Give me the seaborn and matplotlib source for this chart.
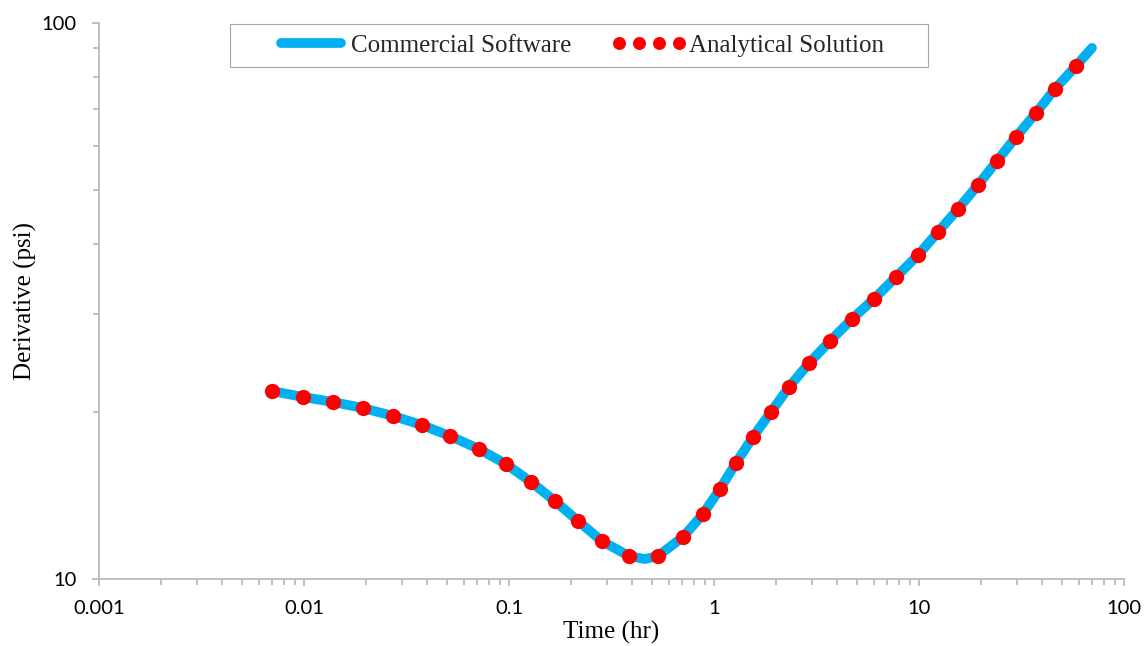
import numpy as np
import matplotlib
matplotlib.use("Agg")
import matplotlib.pyplot as plt
import seaborn as sns
from matplotlib.ticker import LogLocator, NullFormatter
from matplotlib.patches import Rectangle

# Pressure-derivative response vs. elapsed time (log-log)
software_time = [0.00698, 0.00989, 0.01385, 0.0194, 0.0272, 0.0376, 0.0515, 0.0714,
                 0.0966, 0.128, 0.1675, 0.217, 0.284, 0.385, 0.46, 0.533, 0.706,
                 0.884, 1.070, 1.280, 1.549, 1.897, 2.32, 2.91, 3.68, 4.71, 6.03,
                 7.73, 9.89, 12.38, 15.49, 19.40, 24.0, 29.7, 37.2, 46.0, 58.3, 69.8]
software_deriv = [21.78, 21.25, 20.81, 20.30, 19.64, 18.92, 18.08, 17.13,
                  16.10, 14.95, 13.81, 12.72, 11.70, 11.00, 10.86, 11.00, 11.90,
                  13.09, 14.52, 16.17, 18.01, 19.97, 22.14, 24.46, 26.79, 29.36, 31.89,
                  34.93, 38.24, 42.08, 46.30, 51.12, 56.47, 62.37, 68.89, 76.08, 83.70, 90.2]

analytical_time = [0.00698, 0.00989, 0.01385, 0.0194, 0.0272, 0.0376, 0.0515, 0.0714,
                   0.0966, 0.128, 0.1675, 0.217, 0.284, 0.385, 0.533, 0.706,
                   0.884, 1.070, 1.280, 1.549, 1.897, 2.32, 2.91, 3.68, 4.71, 6.03,
                   7.73, 9.89, 12.38, 15.49, 19.40, 24.0, 29.7, 37.2, 46.0, 58.3]
analytical_deriv = [21.78, 21.25, 20.81, 20.30, 19.64, 18.92, 18.08, 17.13,
                    16.10, 14.95, 13.81, 12.72, 11.70, 11.00, 11.00, 11.90,
                    13.09, 14.52, 16.17, 18.01, 19.97, 22.14, 24.46, 26.79, 29.36, 31.89,
                    34.93, 38.24, 42.08, 46.30, 51.12, 56.47, 62.37, 68.89, 76.08, 83.70]

series_labels = ["Commercial Software", "Analytical Solution"]
x_tick_values = [0.001, 0.01, 0.1, 1, 10, 100]
y_tick_values = [10, 100]

sns.set_theme(style="white")
plt.rcParams["font.family"] = ["Liberation Serif", "DejaVu Serif"]

W, H = 1148, 646
fig = plt.figure(figsize=(W / 100, H / 100), dpi=100)
ax = fig.add_axes([99 / W, 1 - 579 / H, (1124 - 99) / W, (579 - 23) / H])

sns.lineplot(x=software_time, y=software_deriv, ax=ax, color="#00B0F0",
             linewidth=7, solid_capstyle="round", sort=False, estimator=None,
             label=series_labels[0])
sns.lineplot(x=analytical_time, y=analytical_deriv, ax=ax, color="#FF0000",
             linestyle="", marker="o", markersize=11, markeredgewidth=0,
             sort=False, estimator=None, label=series_labels[1])

ax.set_xscale("log")
ax.set_yscale("log")

tick_font = dict(fontfamily="Lato", fontsize=14.5, color="black")
ax.set_xticks(x_tick_values, labels=[f"{v:g}" for v in x_tick_values], **tick_font)
ax.set_yticks(y_tick_values, labels=[f"{v:g}" for v in y_tick_values], **tick_font)
ax.xaxis.set_minor_locator(LogLocator(base=10, subs=np.arange(2, 10)))
ax.yaxis.set_minor_locator(LogLocator(base=10, subs=np.arange(2, 10)))
ax.xaxis.set_minor_formatter(NullFormatter())
ax.yaxis.set_minor_formatter(NullFormatter())
ax.set_xlim(0.001, 100)
ax.set_ylim(10, 100)

axis_gray = "#BFBFBF"
for side in ("top", "right"):
    ax.spines[side].set_visible(False)
for side in ("left", "bottom"):
    ax.spines[side].set_color(axis_gray)
    ax.spines[side].set_linewidth(1.4)
ax.tick_params(which="both", bottom=True, left=True, top=False, right=False)
ax.tick_params(which="major", direction="out", length=5, width=1.4,
               color=axis_gray)
ax.tick_params(which="minor", direction="out", length=4, width=1.4,
               color=axis_gray)
ax.tick_params(axis="x", which="major", pad=10)
ax.tick_params(axis="y", which="major", pad=11)
ax.grid(False)

ax.set_xlabel("Time (hr)", fontsize=18, color="black", labelpad=3)
ax.set_ylabel("Derivative (psi)", fontsize=18, color="black", labelpad=3)

handles, labels = ax.get_legend_handles_labels()
if ax.get_legend() is not None:
    ax.get_legend().remove()
fig.legend(handles, labels, loc="center", bbox_to_anchor=(579 / W, 1 - 45.5 / H),
           ncol=2, frameon=False, fontsize=18, numpoints=4, handlelength=3,
           handletextpad=0.1, columnspacing=1.6, markerscale=0.85, borderpad=0)
fig.add_artist(Rectangle((230 / W, 1 - 67 / H), 698 / W, 43 / H,
                         transform=fig.transFigure, facecolor="white",
                         edgecolor="#A6A6A6", linewidth=0.8, zorder=0.5))

fig.savefig("out.png", dpi=100)
